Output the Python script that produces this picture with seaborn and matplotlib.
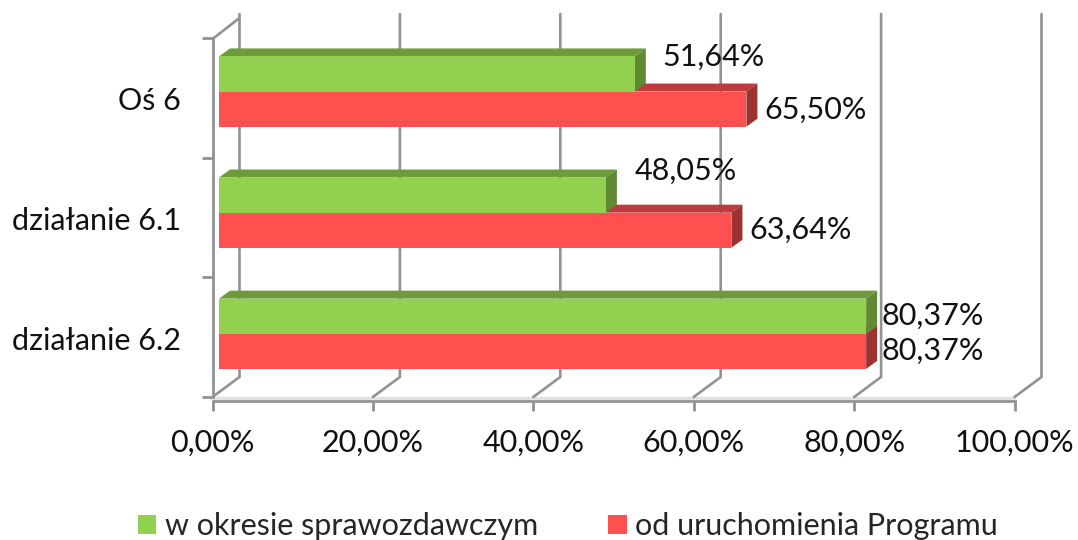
import matplotlib
matplotlib.use('Agg')
import matplotlib.pyplot as plt
import pandas as pd
import seaborn as sns
from matplotlib.lines import Line2D
from matplotlib.patches import Polygon
from matplotlib.transforms import Affine2D, IdentityTransform

categories = ['Oś 6', 'działanie 6.1', 'działanie 6.2']
series_names = ['w okresie sprawozdawczym', 'od uruchomienia Programu']
okres_values = [51.64, 48.05, 80.37]
program_values = [65.50, 63.64, 80.37]
x_ticks = [0, 20, 40, 60, 80, 100]

df = pd.DataFrame({
    'kategoria': categories * 2,
    'seria': [series_names[0]] * 3 + [series_names[1]] * 3,
    'wartosc': okres_values + program_values,
})

sns.set_theme(style='white')
plt.rcParams['font.family'] = ['Lato', 'DejaVu Sans']

GREEN = '#92D050'
RED = '#FF4F4F'
FACES = {GREEN: ('#6F9A3C', '#5F8A33'), RED: ('#BE3A3C', '#9C3232')}
GRID = '#929292'
W, H = 1078, 540
FS = 22

fig = plt.figure(figsize=(W / 100, H / 100), dpi=100)
ax = fig.add_axes([212.5 / W, (H - 397) / H, 802 / W, 359 / H])

sns.barplot(data=df, y='kategoria', x='wartosc', hue='seria', palette=[GREEN, RED],
            width=0.58, saturation=1, linewidth=0, ax=ax)
ax.set_xlim(0, 100)
ax.set_ylim(2.5, -0.5)
ax.set_xlabel('')
ax.set_ylabel('')

# axes look: ticks between the categories, x axis a bit below the floor
for side in ['top', 'right']:
    ax.spines[side].set_visible(False)
ax.spines['bottom'].set_position(('outward', 3))
for side in ['left', 'bottom']:
    ax.spines[side].set_color(GRID)
    ax.spines[side].set_linewidth(2)
ax.set_yticks([-0.5, 0.5, 1.5, 2.5], minor=True)
ax.tick_params(axis='y', which='minor', length=8, width=2, color=GRID, left=True)
ax.tick_params(axis='y', which='major', length=0, pad=23, labelsize=FS, left=False)
ax.set_xticks(x_ticks)
ax.set_xticklabels([f'{v},00%' for v in x_ticks], fontsize=FS)
ax.tick_params(axis='x', length=7, width=2, color=GRID, pad=13, bottom=True)
for lab in ax.get_yticklabels():
    lab.set_color('#111111')
    lab.set_transform(lab.get_transform() + Affine2D().translate(0, -1))
for lab in ax.get_xticklabels():
    lab.set_color('#111111')

fig.canvas.draw()

# back wall and floor, in pixels from the tick positions
y0 = ax.transAxes.transform((0, 0))[1]
y1 = ax.transAxes.transform((0, 1))[1]
x0 = ax.transAxes.transform((0, 0))[0]
ax.add_line(Line2D([212, 1014], [y0 - 1, y0 - 1], transform=IdentityTransform(),
                   color='#E2E2E2', lw=2.5, clip_on=False, zorder=0))
for v in x_ticks:
    px = ax.transData.transform((v, 0))[0]
    ax.add_line(Line2D([px, px + 27, px + 27], [y0, y0 + 20, y1 + 24], transform=IdentityTransform(),
                       color=GRID, lw=1.9, clip_on=False, zorder=1, solid_joinstyle='miter'))
ax.add_line(Line2D([212.5, 239.5], [y1 - 1, y1 + 20], transform=IdentityTransform(),
                   color=GRID, lw=1.9, clip_on=False, zorder=1))

# 3D look: front faces are moved into the box, top and side faces come from the same bars
SHIFT_X, SHIFT_Y = 6.5, 7
DEPTH_X, DEPTH_Y = 11, 8
place = Affine2D().translate(-x0, -y1).scale(1.004, 1.012).translate(x0 + SHIFT_X, y1 + SHIFT_Y)
for z, cont, col in [(5, ax.containers[0], GREEN), (3, ax.containers[1], RED)]:
    top_col, side_col = FACES[col]
    for bar in cont:
        (xa, ya), (xb, yb) = place.transform(ax.transData.transform(
            [(bar.get_x(), bar.get_y()), (bar.get_x() + bar.get_width(), bar.get_y() + bar.get_height())]))
        top = [(xa, ya), (xb, ya), (xb + DEPTH_X, ya + DEPTH_Y), (xa + DEPTH_X, ya + DEPTH_Y)]
        side = [(xb, ya), (xb + DEPTH_X, ya + DEPTH_Y), (xb + DEPTH_X, yb + DEPTH_Y), (xb, yb)]
        ax.add_patch(Polygon(top, closed=True, fc=top_col, ec='none', transform=IdentityTransform(),
                             clip_on=False, zorder=z))
        ax.add_patch(Polygon(side, closed=True, fc=side_col, ec='none', transform=IdentityTransform(),
                             clip_on=False, zorder=z))
        bar.set_transform(ax.transData + place)
        bar.set_clip_on(False)
        bar.set_zorder(z + 1)

# value labels, offsets in pixels from the bar end
okres_offsets = [(29, 26), (30, 32), (18, 7)]
program_offsets = [(20, 8), (20, 8), (18, 6)]
for vals, offs, pos_shift in [(okres_values, okres_offsets, -0.145), (program_values, program_offsets, 0.145)]:
    for i, (v, (dx, dy)) in enumerate(zip(vals, offs)):
        ax.annotate(f'{v:.2f}%'.replace('.', ','), xy=(v, i + pos_shift), xycoords='data',
                    xytext=(dx * 0.72 + SHIFT_X * 0.72, dy * 0.72 + SHIFT_Y * 0.72 - 7), textcoords='offset points',
                    ha='left', va='center', fontsize=FS, color='#111111', zorder=10, annotation_clip=False)

handles, labels = ax.get_legend_handles_labels()
ax.legend(handles, labels, ncol=2, loc='center', bbox_to_anchor=(568 / W, 1 - 526 / H),
          bbox_transform=fig.transFigure, frameon=False, fontsize=FS, handlelength=0.6,
          handleheight=0.6, handletextpad=0.28, columnspacing=2.3, borderpad=0)

fig.savefig('out.png', dpi=100)
